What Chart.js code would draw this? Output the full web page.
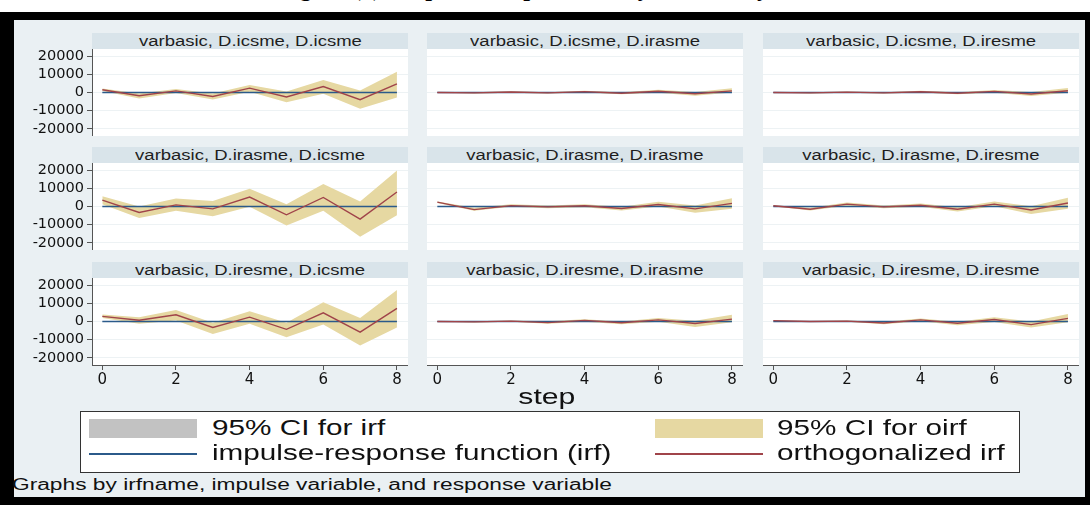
<!DOCTYPE html>
<html>
<head>
<meta charset="utf-8">
<script src="https://cdn.jsdelivr.net/npm/chart.js@4.4.1/dist/chart.umd.min.js"></script>
<style>
  body { margin: 0; width: 1090px; height: 505px; background: #fff; position: relative; overflow: hidden;
         font-family: "Liberation Sans", Arial, sans-serif; }
  .abs { position: absolute; }
  .wide { display: inline-block; white-space: nowrap; }
  #caption { left: 0; top: 0; width: 1090px; height: 12px; overflow: hidden; }
  #caption span { position: absolute; left: 278px; top: -24px; font: bold 23px "Liberation Serif", "Times New Roman", serif;
                  color: #000; white-space: nowrap; transform: scaleX(1.06); transform-origin: left center; }
  #frame { left: 0; top: 12px; width: 1090px; height: 493px; background: #000; }
  #inner { left: 14px; top: 20px; width: 1071px; height: 477px; background: #eaf0f3; }
  .head { background: #d9e4ea; color: #1e1e1e; font-size: 14px; line-height: 16px; text-align: center; }
  .head span { transform: scaleX(1.32); }
  #legend { left: 80px; top: 411px; width: 938px; height: 60px; background: #fff; border: 1px solid #333; }
  .ltxt { font-size: 22px; color: #111; white-space: nowrap; transform: scaleX(1.35); transform-origin: left center; }
</style>
</head>
<body>
<div id="caption" class="abs"><span>Figure (3): Impulse Response Analysis of Study Variables</span></div>
<div id="frame" class="abs"></div>
<div id="inner" class="abs"></div>
<div id="panels"></div>
<div class="abs" style="left:497px;top:384px;width:100px;text-align:center;font-size:22px;color:#111;">
  <span class="wide" style="transform:scaleX(1.37);">step</span></div>
<div id="legend" class="abs">
  <div class="abs" style="left:8px;top:7px;width:108px;height:19px;background:#c2c2c2;"></div>
  <div class="abs ltxt" style="left:131px;top:3px;">95% CI for irf</div>
  <div class="abs" style="left:574px;top:7px;width:108px;height:19px;background:#e6d8a2;"></div>
  <div class="abs ltxt" style="left:696px;top:3px;">95% CI for oirf</div>
  <div class="abs" style="left:8px;top:41px;width:108px;height:2px;background:#2b5a8a;"></div>
  <div class="abs ltxt" style="left:131px;top:28px;">impulse-response function (irf)</div>
  <div class="abs" style="left:574px;top:41px;width:108px;height:2px;background:#a0444a;"></div>
  <div class="abs ltxt" style="left:696px;top:28px;">orthogonalized irf</div>
</div>
<div class="abs" style="left:12px;top:476px;font-size:16px;color:#111;white-space:nowrap;transform:scaleX(1.42);transform-origin:left center;">Graphs by irfname, impulse variable, and response variable</div>

<script>
const steps = [0, 1, 2, 3, 4, 5, 6, 7, 8];
const xTicks = [0, 2, 4, 6, 8];
const yTicks = [-20000, -10000, 0, 10000, 20000];
const variables = ['D.icsme', 'D.irasme', 'D.iresme'];

// irf stays on zero, its CI is too narrow to show
const irf = [0, 0, 0, 0, 0, 0, 0, 0, 0];
const irfLo = [0, 0, 0, 0, 0, 0, 0, 0, 0];
const irfHi = [0, 0, 0, 0, 0, 0, 0, 0, 0];

// impulse D.icsme
const oirf11 = [1500, -1800, 900, -2200, 2400, -2500, 3300, -4000, 4700];
const lo11 = [800, -3300, -300, -3800, 400, -5400, -700, -9000, -2700];
const hi11 = [2200, -500, 2000, -600, 4200, 500, 6900, 1100, 11500];
const oirf12 = [0, -200, 300, -200, 500, -400, 700, -700, 900];
const lo12 = [0, -500, -100, -600, 0, -900, -200, -1800, 0];
const hi12 = [0, 100, 700, 200, 1000, 100, 1500, 300, 2300];
const oirf13 = [0, -200, 200, -200, 400, -400, 600, -800, 1000];
const lo13 = [0, -500, -200, -600, 0, -1000, -100, -1900, -100];
const hi13 = [0, 100, 600, 200, 900, 200, 1400, 300, 2500];

// impulse D.irasme
const oirf21 = [3500, -3300, 900, -1300, 5200, -4600, 5000, -7000, 8000];
const lo21 = [1300, -6300, -2400, -5400, -200, -10500, -2400, -16700, -4800];
const hi21 = [5700, 0, 4400, 3000, 9800, 1300, 12400, 2800, 19800];
const oirf22 = [2400, -1700, 500, -200, 400, -1100, 1100, -1300, 1700];
const lo22 = [2000, -2400, -200, -900, -400, -2200, 0, -3500, -1300];
const hi22 = [2800, -700, 1300, 500, 1300, -200, 2600, 500, 4600];
const oirf23 = [400, -1500, 1300, -200, 700, -1500, 1300, -1900, 1900];
const lo23 = [100, -2200, 400, -900, -200, -2800, 200, -4100, -1300];
const hi23 = [700, -700, 2200, 500, 1700, -400, 2800, 200, 4800];

// impulse D.iresme
const oirf31 = [2800, 700, 3700, -3300, 2400, -4300, 4800, -5900, 7200];
const lo31 = [2000, -1300, 500, -6900, -1300, -8700, -1700, -13300, -3300];
const hi31 = [3900, 2400, 6300, -700, 5700, -700, 10600, 2000, 17400];
const oirf32 = [0, -200, 200, -600, 600, -700, 900, -1100, 1300];
const lo32 = [0, -500, -200, -1300, -100, -1500, -200, -3100, -400];
const hi32 = [0, 100, 600, 100, 1300, 0, 2000, 400, 3700];
const oirf33 = [500, 0, 200, -800, 900, -1000, 1100, -1700, 1700];
const lo33 = [300, -300, -200, -1500, 100, -2000, -300, -3300, -400];
const hi33 = [700, 300, 600, -100, 1700, -100, 2400, 0, 4200];

const panels = [
  [[oirf11, lo11, hi11], [oirf12, lo12, hi12], [oirf13, lo13, hi13]],
  [[oirf21, lo21, hi21], [oirf22, lo22, hi22], [oirf23, lo23, hi23]],
  [[oirf31, lo31, hi31], [oirf32, lo32, hi32], [oirf33, lo33, hi33]]
];

const colLeft = [92, 427, 763];
const rowTop = [49, 163, 278];
const plotW = 316, plotH = 87, yAxisW = 78, xAxisH = 24;

const whiteBg = {
  id: 'whiteBg',
  beforeDraw(chart) {
    const a = chart.chartArea, c = chart.ctx;
    c.save();
    c.fillStyle = '#fff';
    c.fillRect(a.left, a.top, a.right - a.left, a.bottom - a.top);
    c.restore();
  }
};

const holder = document.getElementById('panels');

panels.forEach((row, r) => {
  row.forEach((p, c) => {
    const [oirf, lo, hi] = p;
    const firstCol = c === 0, lastRow = r === 2;

    const head = document.createElement('div');
    head.className = 'abs head';
    head.style.cssText = `left:${colLeft[c]}px;top:${rowTop[r] - 16}px;width:${plotW}px;height:16px;`;
    head.innerHTML = `<span class="wide">varbasic, ${variables[r]}, ${variables[c]}</span>`;
    holder.appendChild(head);

    const box = document.createElement('div');
    const left = firstCol ? colLeft[c] - yAxisW : colLeft[c];
    const w = firstCol ? plotW + yAxisW : plotW;
    const h = lastRow ? plotH + xAxisH : plotH;
    box.className = 'abs';
    box.style.cssText = `left:${left}px;top:${rowTop[r]}px;width:${w}px;height:${h}px;`;
    const cv = document.createElement('canvas');
    box.appendChild(cv);
    holder.appendChild(box);

    const pts = a => steps.map((s, i) => ({ x: s, y: a[i] }));

    new Chart(cv, {
      type: 'line',
      data: {
        datasets: [
          { data: pts(lo), borderWidth: 0, fill: false, order: 4 },
          { data: pts(hi), borderWidth: 0, fill: '-1', backgroundColor: '#e6d8a2', order: 4 },
          { data: pts(irfLo), borderWidth: 0, fill: false, order: 3 },
          { data: pts(irfHi), borderWidth: 0, fill: '-1', backgroundColor: '#c2c2c2', order: 3 },
          { data: pts(irf), borderColor: '#2b5a8a', borderWidth: 1.4, fill: false, order: 2 },
          { data: pts(oirf), borderColor: '#a0444a', borderWidth: 1.4, fill: false, order: 1 }
        ]
      },
      options: {
        responsive: true,
        maintainAspectRatio: false,
        animation: false,
        devicePixelRatio: 1,
        layout: { padding: 0 },
        elements: { point: { radius: 0 }, line: { tension: 0 } },
        plugins: { legend: { display: false }, tooltip: { enabled: false } },
        scales: {
          x: {
            type: 'linear', min: -0.28, max: 8.3,
            display: lastRow,
            afterBuildTicks: s => { s.ticks = xTicks.map(v => ({ value: v })); },
            afterFit: s => { s.height = lastRow ? xAxisH : 0; s.paddingLeft = 0; s.paddingRight = 0; },
            grid: { drawOnChartArea: false, drawTicks: true, tickLength: 5, tickColor: '#555' },
            border: { display: true, color: '#555', width: 1 },
            ticks: { padding: 1, color: '#111', font: { size: 15, family: 'DejaVu Sans' } }
          },
          y: {
            type: 'linear', min: -24000, max: 24000,
            afterBuildTicks: s => { s.ticks = yTicks.map(v => ({ value: v })); },
            afterFit: s => { s.width = firstCol ? yAxisW : 0; s.paddingTop = 0; s.paddingBottom = 0; },
            grid: { color: '#edf2f4', drawTicks: firstCol, tickLength: 5, tickColor: '#555' },
            border: { display: firstCol, color: '#555', width: 1 },
            ticks: { display: firstCol, autoSkip: false, padding: 3, color: '#111',
                     font: { size: 14.5, family: 'DejaVu Sans' }, callback: v => String(v) }
          }
        }
      },
      plugins: [whiteBg]
    });
  });
});
</script>
</body>
</html>
